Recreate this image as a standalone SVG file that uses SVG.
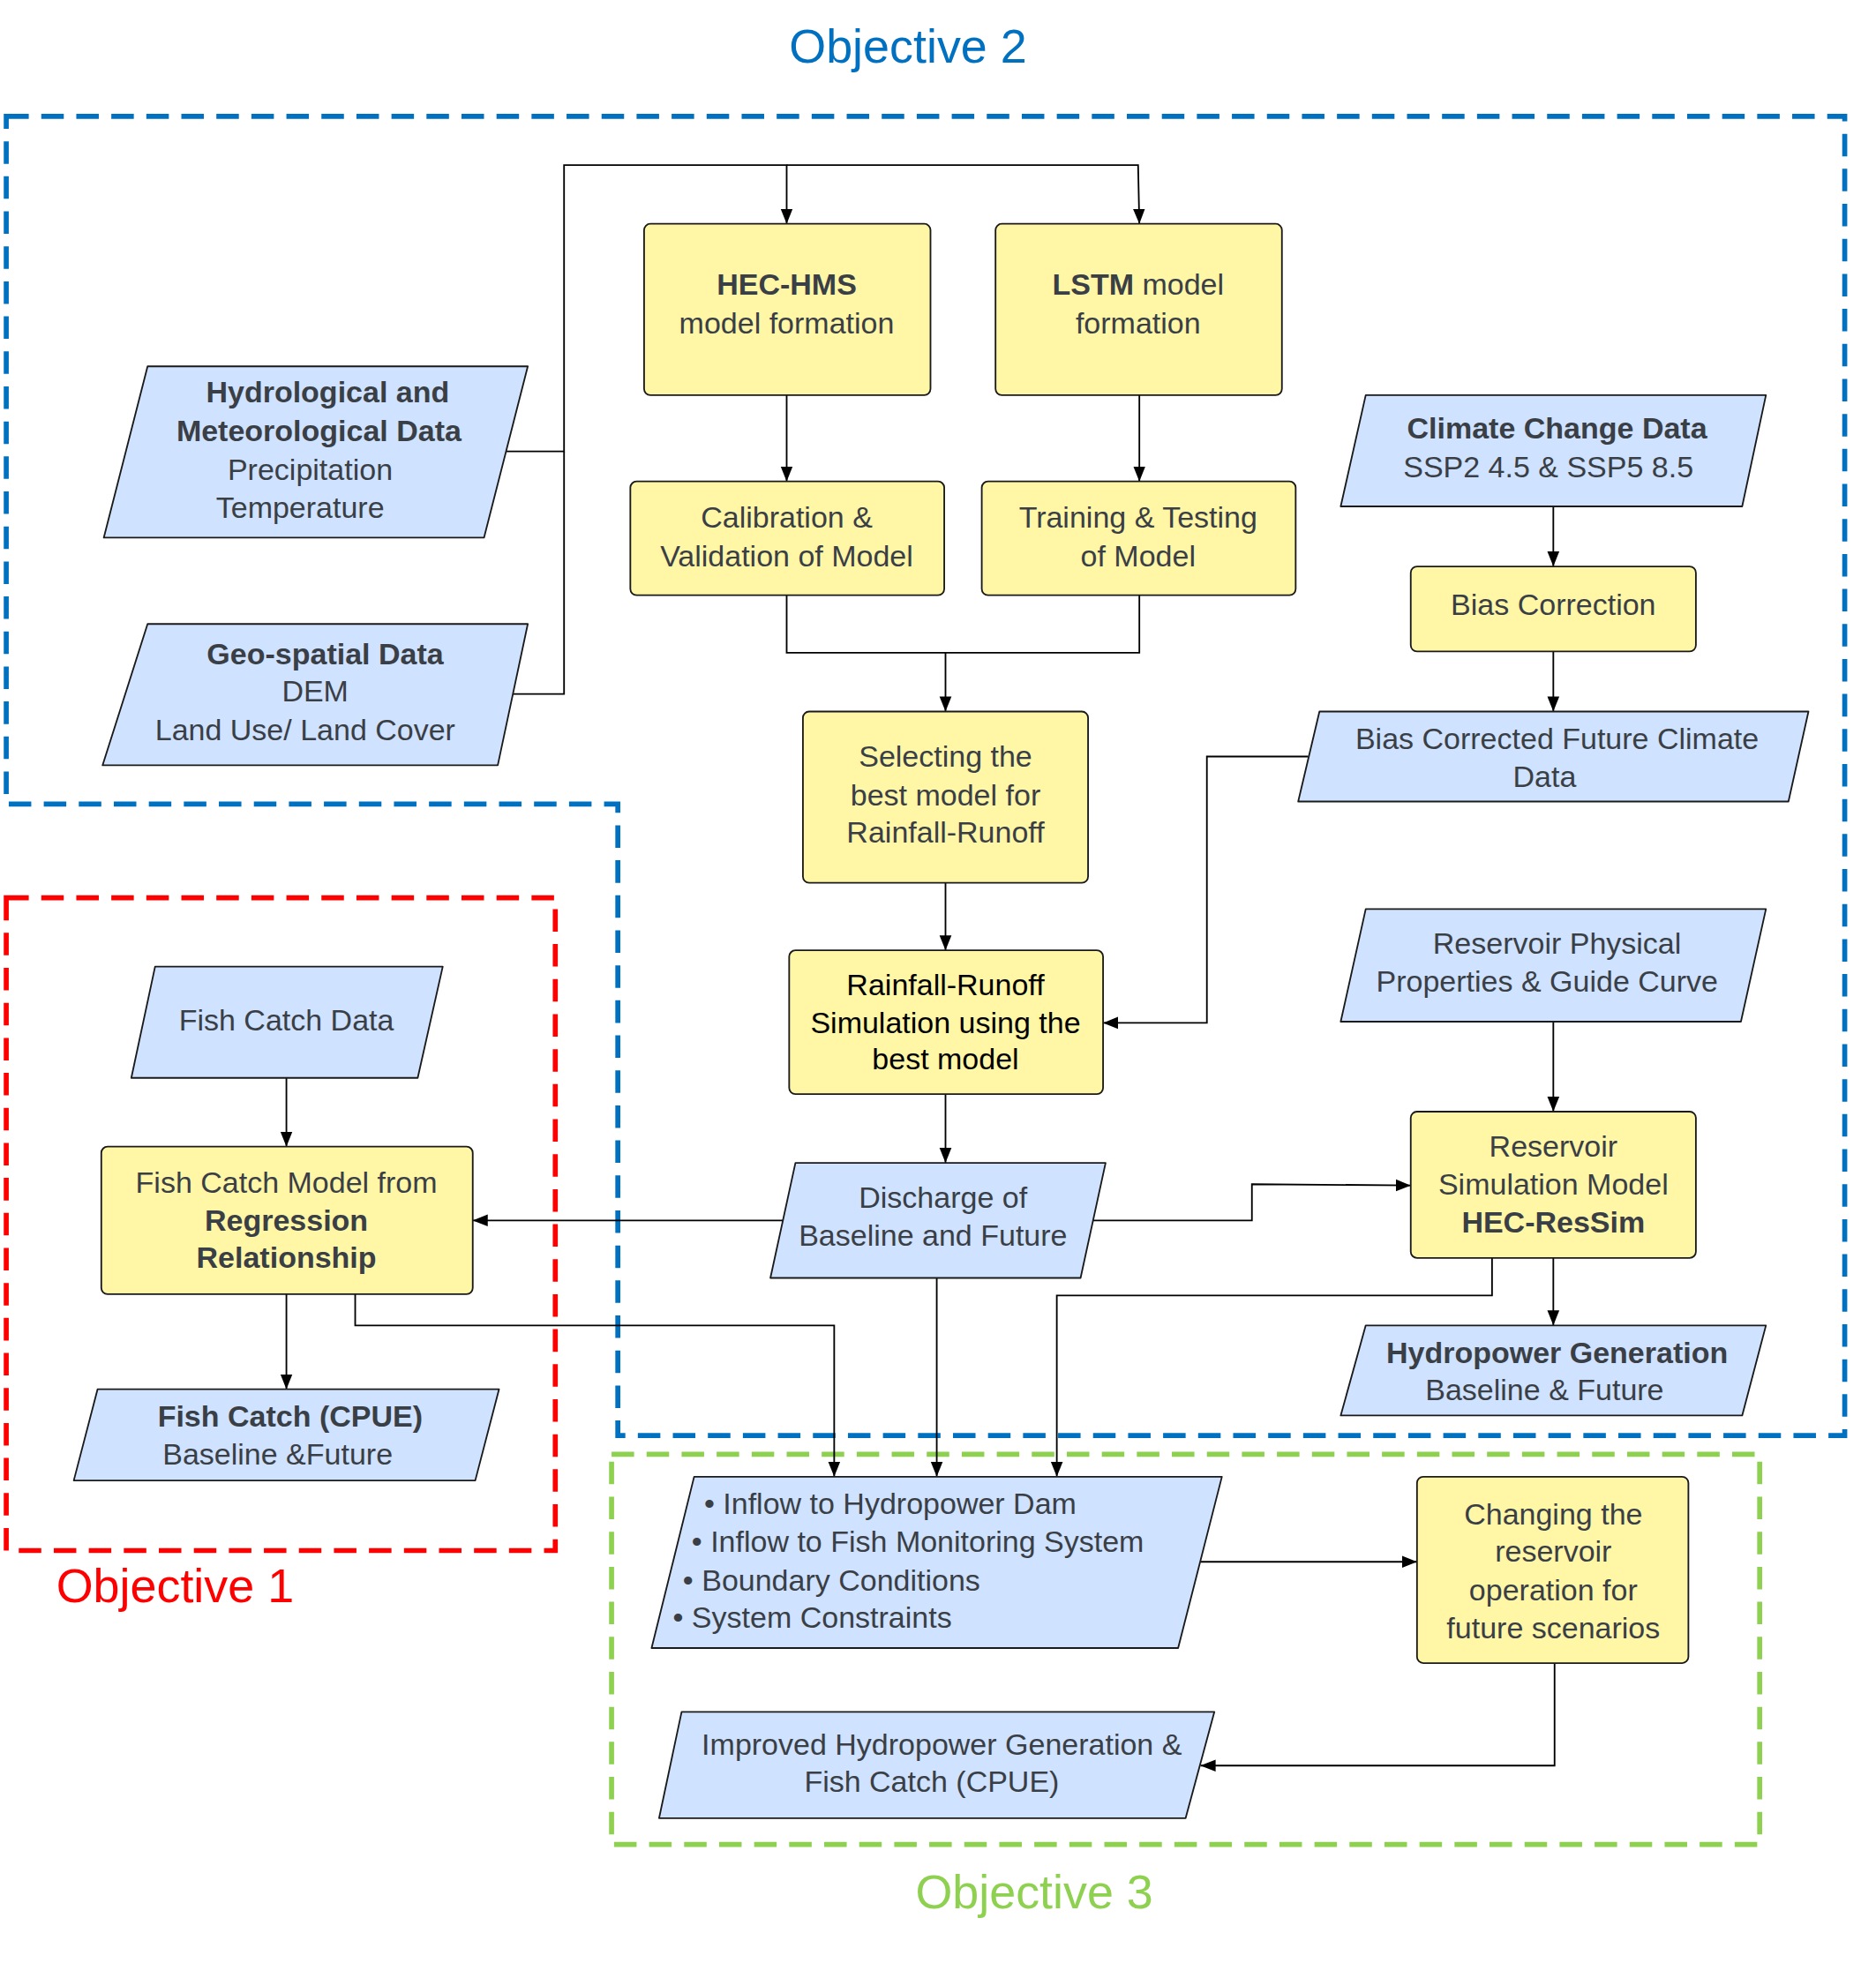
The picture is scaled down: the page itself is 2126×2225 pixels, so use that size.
<svg xmlns="http://www.w3.org/2000/svg" width="2126" height="2225" viewBox="0 0 2126 2225">
<style>
text{font-family:"Liberation Sans",Arial,sans-serif;font-size:24px;fill:#3a3f46;text-anchor:middle}
.b{font-weight:bold}
.k{fill:#000}
.y{fill:#FFF6A6;stroke:#1a1a1a;stroke-width:1.3}
.u{fill:#CFE2FF;stroke:#1a1a1a;stroke-width:1.3;stroke-linejoin:round}
.c{fill:none;stroke:#000;stroke-width:1.3}
.bl{text-anchor:start}
.t{font-size:38px}
</style>
<defs><marker id="a" viewBox="0 0 10 10" refX="10" refY="5" markerWidth="12" markerHeight="12" markerUnits="userSpaceOnUse" orient="auto"><path d="M0,1 L10,5 L0,9z" fill="#000"/></marker></defs>
<rect width="2126" height="2225" fill="#fff"/>
<g transform="scale(1.41733)">
<g id="frames" fill="none" stroke-width="4" stroke-dasharray="18 10">
<path d="M5,93 H1475 V1148 H494 V643 H5 Z" stroke="#0070C0"/>
<rect x="5" y="718" width="439" height="522" stroke="#FF0000"/>
<rect x="489" y="1163" width="918" height="312" stroke="#8ED04F"/>
</g>
<text x="726" y="50" class="t" style="fill:#0070C0">Objective 2</text>
<text x="140" y="1281" class="t" style="fill:#FF0000">Objective 1</text>
<text x="827" y="1526" class="t" style="fill:#8ED04F">Objective 3</text>
<g id="connectors" class="c" marker-end="url(#a)">
<path d="M405,361 H451 V132 H629 V179"/>
<path d="M629,132 H910 L911,179"/>
<path d="M410,555 H451 V361" marker-end="none"/>
<path d="M629,316 V385"/>
<path d="M911,316 V385"/>
<path d="M629,476 V522 H756 V569"/>
<path d="M911,476 V522 H756" marker-end="none"/>
<path d="M756,706 V760"/>
<path d="M1046,605 H965 V818 H882"/>
<path d="M1242,405 V453"/>
<path d="M1242,521 V569"/>
<path d="M1242,817 V889"/>
<path d="M1242,1006 V1060"/>
<path d="M756,875 V930"/>
<path d="M626,976 H378"/>
<path d="M874,976 H1001 V947 L1128,948"/>
<path d="M749,1022 V1181"/>
<path d="M1193,1006 V1036 H845 V1181"/>
<path d="M284,1035 V1060 H667 V1181"/>
<path d="M229,862 V917"/>
<path d="M229,1035 V1111"/>
<path d="M960,1249 H1133"/>
<path d="M1243,1330 V1412 H960"/>
</g>
<g id="hydro"><path class="u" d="M118,293 H422 L387,430 H83 Z"/><text x="262" y="322" class="b">Hydrological and</text><text x="255" y="353" class="b">Meteorological Data</text><text x="248" y="384">Precipitation</text><text x="240" y="414">Temperature</text></g>
<g id="geo"><path class="u" d="M118,499 H422 L398,612 H82 Z"/><text x="260" y="531" class="b">Geo-spatial Data</text><text x="252" y="561">DEM</text><text x="244" y="592">Land Use/ Land Cover</text></g>
<g id="hechms"><rect class="y" x="515" y="179" width="229" height="137" rx="5"/><text x="629" y="236" class="b">HEC-HMS</text><text x="629" y="267">model formation</text></g>
<g id="lstm"><rect class="y" x="796" y="179" width="229" height="137" rx="5"/><text x="910" y="236"><tspan class="b">LSTM</tspan> model</text><text x="910" y="267">formation</text></g>
<g id="calib"><rect class="y" x="504" y="385" width="251" height="91" rx="5"/><text x="629" y="422">Calibration &amp;</text><text x="629" y="453">Validation of Model</text></g>
<g id="train"><rect class="y" x="785" y="385" width="251" height="91" rx="5"/><text x="910" y="422">Training &amp; Testing</text><text x="910" y="453">of Model</text></g>
<g id="climate"><path class="u" d="M1092,316 H1412 L1393,405 H1072 Z"/><text x="1245" y="351" class="b">Climate Change Data</text><text x="1238" y="382">SSP2 4.5 &amp; SSP5 8.5</text></g>
<g id="bias"><rect class="y" x="1128" y="453" width="228" height="68" rx="5"/><text x="1242" y="492">Bias Correction</text></g>
<g id="biasdata"><path class="u" d="M1055,569 H1446 L1430,641 H1038 Z"/><text x="1245" y="599">Bias Corrected Future Climate</text><text x="1235" y="629">Data</text></g>
<g id="select"><rect class="y" x="642" y="569" width="228" height="137" rx="5"/><text x="756" y="613">Selecting the</text><text x="756" y="644">best model for</text><text x="756" y="674">Rainfall-Runoff</text></g>
<g id="rrsim"><rect class="y" x="631" y="760" width="251" height="115" rx="5"/><text x="756" y="796" class="k">Rainfall-Runoff</text><text x="756" y="826" class="k">Simulation using the</text><text x="756" y="855" class="k">best model</text></g>
<g id="resphys"><path class="u" d="M1092,727 H1412 L1392,817 H1072 Z"/><text x="1245" y="763">Reservoir Physical</text><text x="1237" y="793">Properties &amp; Guide Curve</text></g>
<g id="ressim"><rect class="y" x="1128" y="889" width="228" height="117" rx="5"/><text x="1242" y="925">Reservoir</text><text x="1242" y="955">Simulation Model</text><text x="1242" y="986" class="b">HEC-ResSim</text></g>
<g id="hydropower"><path class="u" d="M1092,1060 H1412 L1393,1132 H1072 Z"/><text x="1245" y="1090" class="b">Hydropower Generation</text><text x="1235" y="1120">Baseline &amp; Future</text></g>
<g id="discharge"><path class="u" d="M636,930 H884 L864,1022 H616 Z"/><text x="754" y="966">Discharge of</text><text x="746" y="996">Baseline and Future</text></g>
<g id="fishdata"><path class="u" d="M124,773 H354 L334,862 H105 Z"/><text x="229" y="824">Fish Catch Data</text></g>
<g id="fishmodel"><rect class="y" x="81" y="917" width="297" height="118" rx="5"/><text x="229" y="954">Fish Catch Model from</text><text x="229" y="984" class="b">Regression</text><text x="229" y="1014" class="b">Relationship</text></g>
<g id="cpue"><path class="u" d="M78,1111 H399 L380,1184 H59 Z"/><text x="232" y="1141" class="b">Fish Catch (CPUE)</text><text x="222" y="1171">Baseline &amp;Future</text></g>
<g id="inflow"><path class="u" d="M555,1181 H977 L942,1318 H521 Z"/><text x="563" y="1211" class="bl">• Inflow to Hydropower Dam</text><text x="553" y="1241" class="bl">• Inflow to Fish Monitoring System</text><text x="546" y="1272" class="bl">• Boundary Conditions</text><text x="538" y="1302" class="bl">• System Constraints</text></g>
<g id="changing"><rect class="y" x="1133" y="1181" width="217" height="149" rx="5"/><text x="1242" y="1219">Changing the</text><text x="1242" y="1249">reservoir</text><text x="1242" y="1280">operation for</text><text x="1242" y="1310">future scenarios</text></g>
<g id="improved"><path class="u" d="M545,1369 H971 L948,1454 H527 Z"/><text x="753" y="1403">Improved Hydropower Generation &amp;</text><text x="745" y="1433">Fish Catch (CPUE)</text></g>
</g>
</svg>
